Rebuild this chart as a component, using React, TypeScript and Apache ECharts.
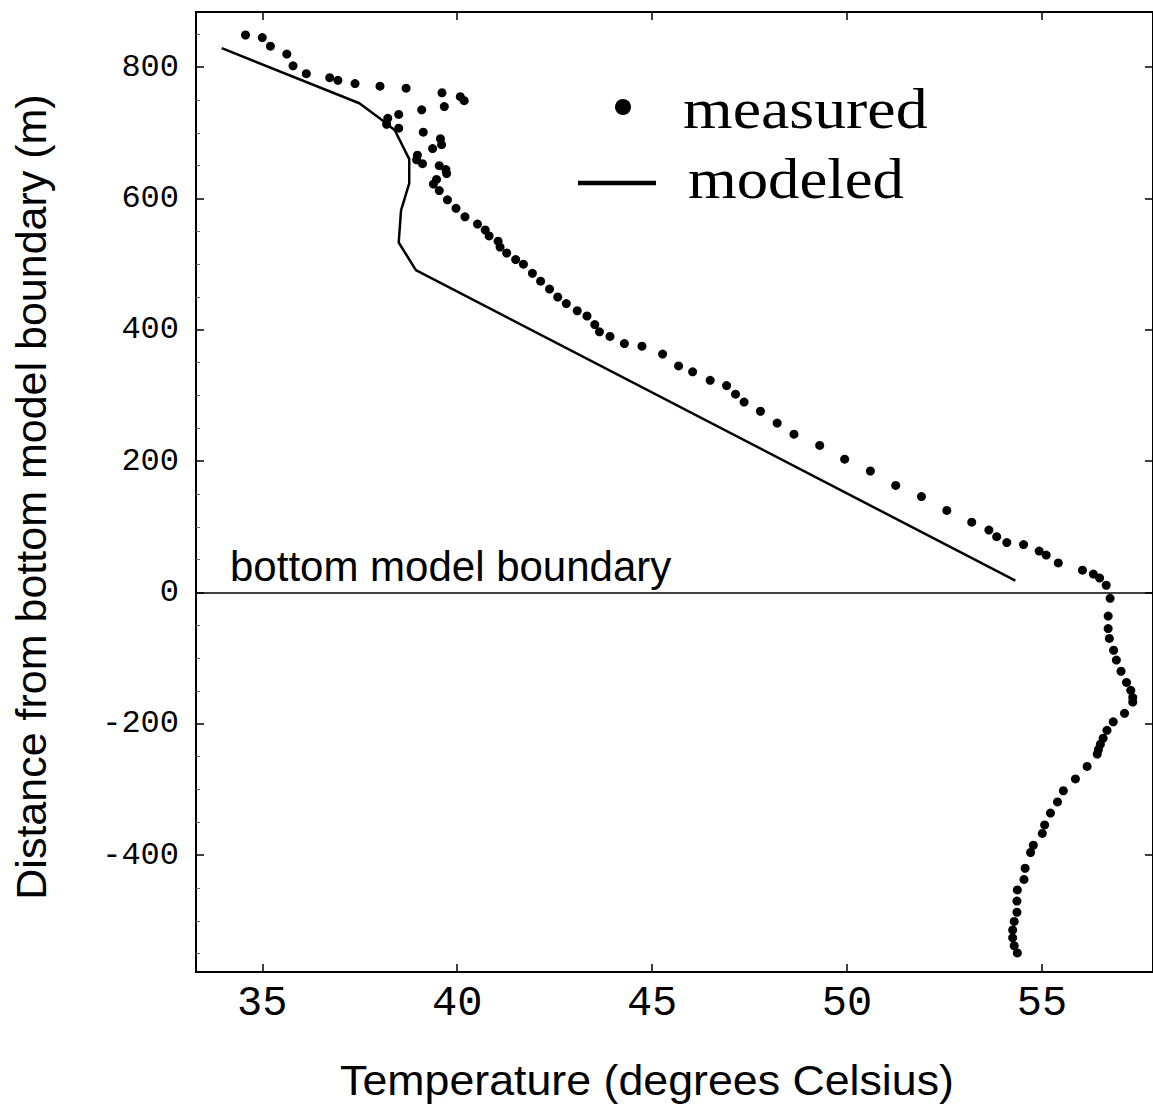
import React, { useEffect, useRef } from "react";
import * as echarts from "echarts";

// ---- Data ----
const measuredTemp = [
  34.57, 35.0, 35.21, 35.63, 35.79, 36.13, 36.73, 36.94, 37.38, 38.02,
  38.69, 39.61, 40.08, 40.18, 39.67, 39.09, 38.5, 38.22, 38.19, 38.5,
  39.13, 39.57, 39.6, 39.37, 38.98, 38.96, 39.11, 39.54, 39.71, 39.73,
  39.47, 39.39, 39.54, 39.75, 39.97, 40.2, 40.52, 40.72, 40.82, 41.05,
  41.1, 41.27, 41.5, 41.7, 41.93, 42.14, 42.37, 42.58, 42.8, 43.08,
  43.33, 43.53, 43.65, 43.92, 44.29, 44.74, 45.27, 45.68, 46.04, 46.49,
  46.91, 47.14, 47.36, 47.78, 48.21, 48.64, 49.3, 49.94, 50.6, 51.25,
  51.91, 52.56, 53.2, 53.64, 53.84, 54.1, 54.53, 54.93, 55.11, 55.42,
  56.04, 56.32, 56.48, 56.65, 56.75, 56.7, 56.7, 56.73, 56.84, 56.91,
  57.03, 57.17, 57.28, 57.33, 57.33, 57.12, 56.83, 56.67, 56.57, 56.5,
  56.45, 56.42, 56.16, 55.86, 55.55, 55.4, 55.22, 55.07, 55.01, 54.78,
  54.71, 54.57, 54.54, 54.37, 54.36, 54.36, 54.29, 54.25, 54.25, 54.29, 54.37,
];
const measuredDist = [
  849, 845, 832, 820, 802, 790, 784, 780, 775, 771,
  768, 761, 755, 749, 740, 735, 728, 722, 713, 707,
  701, 691, 682, 676, 666, 659, 653, 650, 644, 638,
  629, 622, 612, 598, 585, 572, 561, 552, 543, 535,
  526, 517, 507, 500, 486, 474, 462, 450, 440, 429,
  421, 408, 397, 390, 379, 375, 363, 345, 336, 323,
  315, 302, 290, 276, 258, 241, 224, 203, 185, 163,
  146, 125, 107, 95, 85, 76, 73, 63, 57, 45,
  34, 28, 22, 11, -9, -36, -55, -70, -88, -103,
  -120, -137, -149, -160, -167, -184, -197, -210, -222, -231,
  -239, -246, -265, -284, -302, -319, -336, -354, -367, -385,
  -396, -420, -437, -453, -470, -487, -501, -514, -526, -538, -549,
];
const modeledTemp = [33.96, 37.49, 38.08, 38.4, 38.77, 38.77, 38.56, 38.5, 38.94, 54.32];
const modeledDist = [829, 745, 719, 704, 660, 623, 582, 533, 491, 18];

const xTicks = [35, 40, 45, 50, 55];
const yTicks = [-400, -200, 0, 200, 400, 600, 800];
const yMinorTicks = [
  -550, -500, -450, -350, -300, -250, -150, -100, -50, 50, 100, 150,
  250, 300, 350, 450, 500, 550, 650, 700, 750, 850,
];
const xRange = [33.3, 57.85];
const yRange = [-578, 884];

const legendMeasured = "measured";
const legendModeled = "modeled";
const xTitle = "Temperature (degrees Celsius)";
const yTitle = "Distance from bottom model boundary (m)";
const boundaryLabel = "bottom model boundary";

export default function App() {
  const ref = useRef<HTMLDivElement>(null);

  useEffect(() => {
    if (!ref.current) return;
    const chart = echarts.init(ref.current, null, { renderer: "svg" });
    const tickStyle = { color: "#000", width: 1.5 };
    const monoFont = "Liberation Mono";
    const sans = "Liberation Sans";
    const serif = "Liberation Serif";
    const hiddenLine = { show: false, onZero: false };

    const option: any = {
      animation: false,
      backgroundColor: "#fff",
      grid: {
        left: 196,
        top: 12,
        right: -2,
        bottom: 133,
        show: true,
        borderColor: "#000",
        borderWidth: 2,
        backgroundColor: "transparent",
      },
      xAxis: [
        {
          type: "value",
          position: "bottom",
          min: xRange[0],
          max: xRange[1],
          splitLine: { show: false },
          axisLine: hiddenLine,
          axisTick: { inside: true, length: 8, customValues: xTicks, lineStyle: tickStyle },
          axisLabel: {
            customValues: xTicks,
            fontFamily: monoFont,
            fontSize: 42,
            color: "#000",
            margin: 11,
          },
        },
        {
          type: "value",
          position: "top",
          min: xRange[0],
          max: xRange[1],
          splitLine: { show: false },
          axisLine: hiddenLine,
          axisTick: { inside: true, length: 8, customValues: xTicks, lineStyle: tickStyle },
          axisLabel: { show: false },
        },
      ],
      yAxis: [
        {
          type: "value",
          position: "left",
          min: yRange[0],
          max: yRange[1],
          splitLine: { show: false },
          axisLine: hiddenLine,
          axisTick: { inside: true, length: 8, customValues: yTicks, lineStyle: tickStyle },
          axisLabel: {
            customValues: yTicks,
            fontFamily: monoFont,
            fontSize: 32,
            color: "#000",
            margin: 17,
          },
        },
        {
          type: "value",
          position: "right",
          min: yRange[0],
          max: yRange[1],
          splitLine: { show: false },
          axisLine: hiddenLine,
          axisTick: { inside: true, length: 8, customValues: yTicks, lineStyle: tickStyle },
          axisLabel: { show: false },
        },
        {
          type: "value",
          position: "left",
          offset: 0,
          min: yRange[0],
          max: yRange[1],
          splitLine: { show: false },
          axisLine: hiddenLine,
          axisTick: {
            inside: true,
            length: 4,
            customValues: yMinorTicks,
            lineStyle: { color: "#666", width: 1 },
          },
          axisLabel: { show: false },
        },
      ],
      series: [
        {
          type: "line",
          name: legendModeled,
          xAxisIndex: 0,
          yAxisIndex: 0,
          data: modeledTemp.map((t, i) => [t, modeledDist[i]]),
          showSymbol: false,
          symbol: "none",
          lineStyle: { color: "#000", width: 2.5 },
          z: 3,
        },
        {
          type: "scatter",
          name: legendMeasured,
          xAxisIndex: 0,
          yAxisIndex: 0,
          data: measuredTemp.map((t, i) => [t, measuredDist[i]]),
          symbol: "circle",
          symbolSize: 9,
          itemStyle: { color: "#000", opacity: 1 },
          z: 4,
          markLine: {
            silent: true,
            symbol: ["none", "none"],
            label: { show: false },
            lineStyle: { color: "#000", width: 1.5, type: "solid" },
            data: [{ yAxis: 0 }],
          },
        },
      ],
      graphic: [
        {
          type: "text",
          x: 230,
          y: 566,
          style: {
            text: boundaryLabel,
            fontFamily: sans,
            fontSize: 42,
            fill: "#000",
            textVerticalAlign: "middle",
            verticalAlign: "middle",
          },
        },
        {
          type: "text",
          x: 647,
          y: 1080,
          scaleX: 1.04,
          style: {
            text: xTitle,
            fontFamily: sans,
            fontSize: 43,
            fill: "#000",
            textAlign: "center",
            align: "center",
            textVerticalAlign: "middle",
            verticalAlign: "middle",
          },
        },
        {
          type: "text",
          x: 31,
          y: 497,
          rotation: Math.PI / 2,
          style: {
            text: yTitle,
            fontFamily: sans,
            fontSize: 43,
            fill: "#000",
            textAlign: "center",
            align: "center",
            textVerticalAlign: "middle",
            verticalAlign: "middle",
          },
        },
        {
          type: "circle",
          shape: { cx: 623, cy: 107, r: 8 },
          style: { fill: "#000" },
        },
        {
          type: "text",
          x: 683,
          y: 109,
          scaleX: 1.12,
          style: {
            text: legendMeasured,
            fontFamily: serif,
            fontSize: 57,
            fill: "#000",
            textVerticalAlign: "middle",
            verticalAlign: "middle",
          },
        },
        {
          type: "line",
          shape: { x1: 578, y1: 183, x2: 656, y2: 183 },
          style: { stroke: "#000", lineWidth: 4.5 },
        },
        {
          type: "text",
          x: 688,
          y: 179,
          scaleX: 1.1,
          style: {
            text: legendModeled,
            fontFamily: serif,
            fontSize: 57,
            fill: "#000",
            textVerticalAlign: "middle",
            verticalAlign: "middle",
          },
        },
      ],
    };

    chart.setOption(option);
    return () => chart.dispose();
  }, []);

  return (
    <div
      ref={ref}
      style={{ position: "absolute", left: 0, top: 0, width: 1153, height: 1105, background: "#fff" }}
    />
  );
}
